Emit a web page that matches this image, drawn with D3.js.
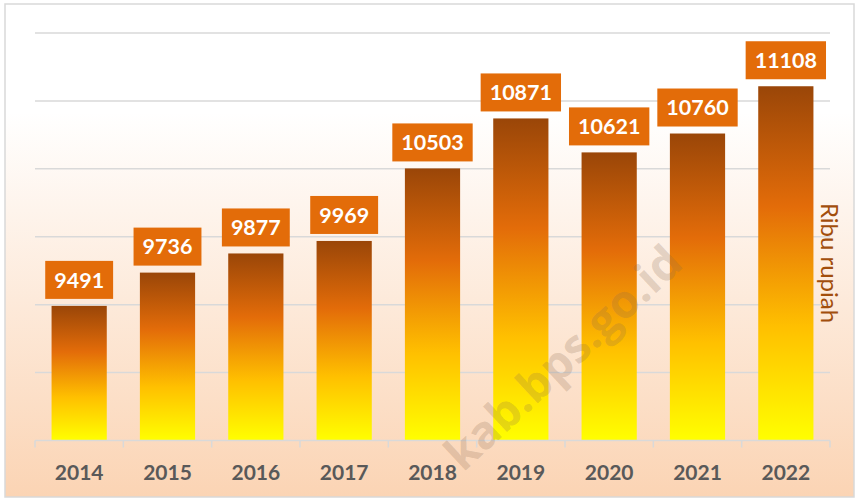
<!DOCTYPE html>
<html>
<head>
<meta charset="utf-8">
<script src="https://cdn.jsdelivr.net/npm/d3@7"></script>
<style>
  body { margin: 0; background: #fff; }
  svg { display: block; }
</style>
</head>
<body>
<svg width="859" height="501"></svg>
<script>
const svg = d3.select('svg');

// data
const years = ['2014', '2015', '2016', '2017', '2018', '2019', '2020', '2021', '2022'];
const values = [9491, 9736, 9877, 9969, 10503, 10871, 10621, 10760, 11108];
const gridTicks = [9000, 9500, 10000, 10500, 11000, 11500];
const unitLabel = 'Ribu rupiah';
const watermark = 'kab.bps.go.id';

const data = years.map((y, i) => ({ year: y, value: values[i] }));

const defs = svg.append('defs');

// chart area background: white fading to peach
const bg = defs.append('linearGradient')
  .attr('id', 'bg').attr('x1', 0).attr('y1', 0).attr('x2', 0).attr('y2', 1);
bg.append('stop').attr('offset', '0').attr('stop-color', '#ffffff');
bg.append('stop').attr('offset', '0.22').attr('stop-color', '#ffffff');
bg.append('stop').attr('offset', '1').attr('stop-color', '#fbd4b4');

// bar fill: brown top -> orange -> gold -> yellow bottom
const barGrad = defs.append('linearGradient')
  .attr('id', 'barGrad').attr('x1', 0).attr('y1', 0).attr('x2', 0).attr('y2', 1);
barGrad.append('stop').attr('offset', '0').attr('stop-color', '#9a4608');
barGrad.append('stop').attr('offset', '0.34').attr('stop-color', '#e36c09');
barGrad.append('stop').attr('offset', '0.68').attr('stop-color', '#ffc000');
barGrad.append('stop').attr('offset', '1').attr('stop-color', '#ffff00');

svg.append('rect')
  .attr('x', 5).attr('y', 4)
  .attr('width', 849).attr('height', 493)
  .attr('fill', 'url(#bg)')
  .attr('stroke', '#d9d9d9')
  .attr('stroke-width', 1.5);

const x = d3.scaleBand()
  .domain(years)
  .range([35, 830])
  .paddingInner(0.375)
  .paddingOuter(0.1875);

const y = d3.scaleLinear()
  .domain([8500, 11500])
  .range([440.5, 33]);

// gridlines
svg.append('g')
  .selectAll('line')
  .data(gridTicks)
  .enter()
  .append('line')
  .attr('x1', 35).attr('x2', 830)
  .attr('y1', d => y(d)).attr('y2', d => y(d))
  .attr('stroke', '#d9d9d9')
  .attr('stroke-width', 1.5);

// bars
svg.append('g')
  .selectAll('rect')
  .data(data)
  .enter()
  .append('rect')
  .attr('x', d => x(d.year))
  .attr('y', d => y(d.value))
  .attr('width', x.bandwidth())
  .attr('height', d => y(8500) - y(d.value))
  .attr('fill', 'url(#barGrad)');

// x axis with ticks between categories
const axis = svg.append('g');
axis.append('line')
  .attr('x1', 35).attr('x2', 830)
  .attr('y1', y(8500)).attr('y2', y(8500))
  .attr('stroke', '#d9d9d9')
  .attr('stroke-width', 1.5);
const edges = years.map(d => x(d) - x.step() * x.paddingInner() / 2);
edges.push(830);
edges[0] = 35;
axis.selectAll('.tick')
  .data(edges)
  .enter()
  .append('line')
  .attr('class', 'tick')
  .attr('x1', d => d).attr('x2', d => d)
  .attr('y1', y(8500)).attr('y2', y(8500) + 7)
  .attr('stroke', '#d9d9d9')
  .attr('stroke-width', 1.5);

axis.selectAll('text')
  .data(years)
  .enter()
  .append('text')
  .attr('x', d => x(d) + x.bandwidth() / 2)
  .attr('y', 480)
  .attr('text-anchor', 'middle')
  .attr('font-family', 'Lato, "Open Sans", sans-serif')
  .attr('font-weight', 'bold')
  .attr('font-size', 21)
  .attr('fill', '#595959')
  .text(d => d);

// value labels in orange boxes
const labels = svg.append('g')
  .selectAll('g')
  .data(data)
  .enter()
  .append('g')
  .attr('transform', d => `translate(${x(d.year) + x.bandwidth() / 2},${y(d.value) - 26})`);

labels.append('rect').attr('fill', '#e36c09');
labels.append('text')
  .attr('text-anchor', 'middle')
  .attr('dy', '0.36em')
  .attr('font-family', 'Lato, "Open Sans", sans-serif')
  .attr('font-weight', 'bold')
  .attr('font-size', 21.5)
  .attr('fill', '#ffffff')
  .text(d => d.value);

labels.each(function() {
  const g = d3.select(this);
  const w = g.select('text').node().getComputedTextLength();
  g.select('rect')
    .attr('x', -(w + 18) / 2)
    .attr('y', -19)
    .attr('width', w + 18)
    .attr('height', 38);
});

// unit label on the right, reading downwards
svg.append('text')
  .attr('transform', 'translate(821,263) rotate(90)')
  .attr('text-anchor', 'middle')
  .attr('font-family', 'Lato, "Open Sans", sans-serif')
  .attr('font-size', 24)
  .attr('fill', '#a24e0c')
  .text(unitLabel);

// watermark
svg.append('text')
  .attr('transform', 'translate(685,266) rotate(-43)')
  .attr('text-anchor', 'end')
  .attr('font-family', '"Open Sans", Lato, sans-serif')
  .attr('font-weight', 'bold')
  .attr('font-size', 46)
  .attr('fill', '#8a6a50')
  .attr('fill-opacity', 0.24)
  .text(watermark);
</script>
</body>
</html>
